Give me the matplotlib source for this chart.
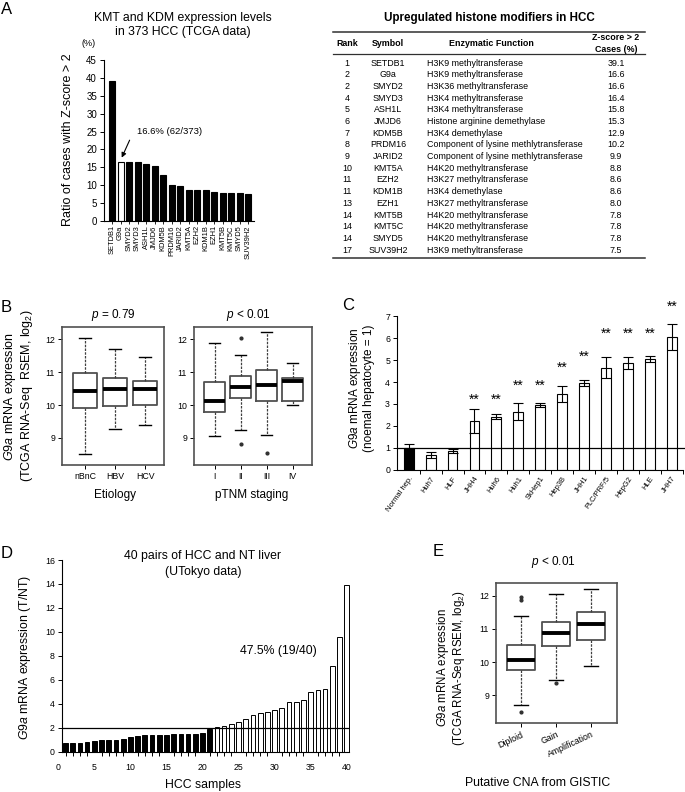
import numpy as np
import matplotlib

matplotlib.use("Agg")
import matplotlib.pyplot as plt

plt.rcParams["font.family"] = ["Liberation Sans", "DejaVu Sans"]
plt.rcParams["mathtext.fontset"] = "custom"
plt.rcParams["mathtext.rm"] = "Liberation Sans"
plt.rcParams["mathtext.it"] = "Liberation Sans:italic"

# ---- A: histone modifiers (TCGA) ----
kmt_ranks = ["1", "2", "2", "4", "5", "6", "7", "8", "9", "10", "11", "11", "13", "14", "14", "14", "17"]
kmt_symbols = ["SETDB1", "G9a", "SMYD2", "SMYD3", "ASH1L", "JMJD6", "KDM5B", "PRDM16", "JARID2",
               "KMT5A", "EZH2", "KDM1B", "EZH1", "KMT5B", "KMT5C", "SMYD5", "SUV39H2"]
kmt_functions = ["H3K9 methyltransferase", "H3K9 methyltransferase", "H3K36 methyltransferase",
                 "H3K4 methyltransferase", "H3K4 methyltransferase", "Histone arginine demethylase",
                 "H3K4 demethylase", "Component of lysine methlytransferase",
                 "Component of lysine methlytransferase", "H4K20 methyltransferase",
                 "H3K27 methyltransferase", "H3K4 demethylase", "H3K27 methyltransferase",
                 "H4K20 methyltransferase", "H4K20 methyltransferase", "H4K20 methyltransferase",
                 "H3K9 methyltransferase"]
kmt_cases = [39.1, 16.6, 16.6, 16.4, 15.8, 15.3, 12.9, 10.2, 9.9, 8.8, 8.6, 8.6, 8.0, 7.8, 7.8, 7.8, 7.5]

# ---- B: boxplots by etiology / stage ----
etiology = ["nBnC", "HBV", "HCV"]
etiology_lo = [8.52, 9.28, 9.38]
etiology_q1 = [9.92, 9.98, 10.0]
etiology_med = [10.43, 10.48, 10.48]
etiology_q3 = [10.98, 10.82, 10.72]
etiology_hi = [12.05, 11.7, 11.45]
etiology_out = [[], [], []]

stages = ["I", "II", "III", "IV"]
stage_lo = [9.04, 9.23, 9.08, 10.0]
stage_q1 = [9.79, 10.2, 10.12, 10.12]
stage_med = [10.13, 10.54, 10.61, 10.72]
stage_q3 = [10.7, 10.9, 11.06, 10.82]
stage_hi = [11.9, 11.54, 12.22, 11.29]
stage_out = [[], [12.05, 8.82], [8.53], []]

# ---- C: cell lines ----
cell_lines = ["Normal hep.", "Huh7", "HLF", "JHH4", "Huh6", "Huh1", "SkHep1", "Hep3B", "JHH1",
              "PLC/PRF/5", "HepG2", "HLE", "JHH7"]
cell_expr = [1.0, 0.67, 0.85, 2.2, 2.42, 2.65, 2.95, 3.45, 3.95, 4.65, 4.85, 5.05, 6.05]
cell_err = [0.15, 0.15, 0.08, 0.55, 0.1, 0.4, 0.1, 0.38, 0.15, 0.47, 0.27, 0.15, 0.6]
cell_star = [None, None, None, 3.2, 3.2, 3.85, 3.85, 4.65, 5.15, 6.2, 6.2, 6.2, 7.45]

# ---- D: 40 paired samples ----
pair_ratio = [0.70, 0.70, 0.70, 0.81, 0.92, 0.95, 0.95, 0.95, 1.06, 1.2,
              1.32, 1.40, 1.43, 1.43, 1.43, 1.48, 1.48, 1.51, 1.51, 1.54,
              1.88, 2.1, 2.18, 2.32, 2.52, 2.72, 3.03, 3.25, 3.28, 3.45,
              3.64, 4.12, 4.17, 4.34, 5.0, 5.13, 5.24, 7.15, 9.6, 13.95]

# ---- E: CNA boxplots ----
cna = ["Diploid", "Gain", "Amplification"]
cna_lo = [8.71, 9.47, 9.89]
cna_q1 = [9.75, 10.5, 10.68]
cna_med = [10.07, 10.88, 11.14]
cna_q3 = [10.52, 11.21, 11.5]
cna_hi = [11.38, 12.05, 12.21]
cna_out = [[11.95, 11.87, 8.5], [9.37], []]

W, H = 685, 792
fig = plt.figure(figsize=(W / 100, H / 100), dpi=100)

# overlay in pixel coordinates for free-standing text, drawn on top
ov = fig.add_axes([0, 0, 1, 1])
ov.set_xlim(0, W)
ov.set_ylim(H, 0)
ov.axis("off")
ov.set_zorder(10)


def ax_px(l, t, r, b):
    return fig.add_axes([l / W, 1 - b / H, (r - l) / W, (b - t) / H])


def txt(x, y, s, size=8.5, **kw):
    kw.setdefault("ha", "center")
    kw.setdefault("va", "center")
    ov.text(x, y, s, fontsize=size, **kw)


def boxes(ax, lo, q1, med, q3, hi, out):
    stats = [dict(whislo=a, q1=b, med=c, q3=d, whishi=e, fliers=f)
             for a, b, c, d, e, f in zip(lo, q1, med, q3, hi, out)]
    ax.bxp(stats, positions=np.arange(1, len(stats) + 1), widths=0.8, capwidths=0.4,
           boxprops=dict(color="#505050", linewidth=1.3),
           medianprops=dict(color="black", linewidth=2.8, solid_capstyle="butt"),
           whiskerprops=dict(color="#404040", linewidth=0.9, linestyle=(0, (2, 1))),
           capprops=dict(color="black", linewidth=1.0),
           flierprops=dict(marker="o", markersize=2, markerfacecolor="#303030",
                           markeredgecolor="#303030"))
    ax.set_ylim(8.17, 12.38)
    ax.set_yticks([9, 10, 11, 12])
    for s in ax.spines.values():
        s.set_color("#505050")
        s.set_linewidth(1.2)
    ax.tick_params(labelsize=6.3, length=3, width=0.7, pad=2)


# ---------------- A bar ----------------
axa = ax_px(104, 60, 254, 221)
xa = np.arange(len(kmt_cases))
axa.bar(xa, kmt_cases, width=0.7, color=["black"] + ["white"] + ["black"] * (len(kmt_cases) - 2),
        edgecolor="black", linewidth=0.8)
axa.set_xlim(-0.95, 16.7)
axa.set_ylim(0, 45)
axa.set_yticks(range(0, 46, 5))
axa.set_xticks(xa)
axa.set_xticklabels(kmt_symbols, rotation=90, fontsize=5.4)
axa.tick_params(axis="y", labelsize=7, length=3, width=0.7, pad=2)
axa.tick_params(axis="x", length=2, width=0.6, pad=1)
axa.spines[["top", "right"]].set_visible(False)
axa.annotate("", xy=(1, 17.0), xytext=(2.2, 23.3),
             arrowprops=dict(arrowstyle="-|>", lw=0.8, color="black", mutation_scale=7))
axa.text(2.9, 24.9, "16.6% (62/373)", fontsize=6.8, va="center")

txt(7, 9, "A", size=12)
txt(183, 18, "KMT and KDM expression levels", size=8.8)
txt(183, 32, "in 373 HCC (TCGA data)", size=8.8)
txt(89, 44, "(%)", size=6.5)
txt(68, 140, "Ratio of cases with Z-score > 2", size=9, rotation=90)

# ---------------- A table ----------------
txt(489, 18, "Upregulated histone modifiers in HCC", size=8.4, fontweight="bold")
for yy, lw in [(32, 1.1), (54, 0.9), (258, 1.1)]:
    ov.plot([333, 645], [yy, yy], color="#303030", lw=lw)
hdr = dict(size=6.4, fontweight="bold")
txt(347, 43, "Rank", **hdr)
txt(388, 43, "Symbol", **hdr)
txt(491, 43, "Enzymatic Function", **hdr)
txt(616, 38, "Z-score > 2", **hdr)
txt(616, 49, "Cases (%)", **hdr)
for i, (rk, sym, fn, cs) in enumerate(zip(kmt_ranks, kmt_symbols, kmt_functions, kmt_cases)):
    yy = 63.3 + 11.67 * i
    txt(347, yy, rk, size=6.4)
    txt(388, yy, sym, size=6.4)
    txt(427, yy, fn, size=6.4, ha="left")
    txt(616, yy, f"{cs:.1f}", size=6.4)

# ---------------- B ----------------
axb1 = ax_px(62, 327, 164, 465)
boxes(axb1, etiology_lo, etiology_q1, etiology_med, etiology_q3, etiology_hi, etiology_out)
axb1.set_xlim(0.23, 3.63)
axb1.set_xticks([1, 2, 3])
axb1.set_xticklabels(etiology)

axb2 = ax_px(194, 327, 312, 465)
boxes(axb2, stage_lo, stage_q1, stage_med, stage_q3, stage_hi, stage_out)
axb2.set_xlim(0.21, 4.75)
axb2.set_xticks([1, 2, 3, 4])
axb2.set_xticklabels(stages)

txt(6, 307, "B", size=12)
txt(113, 315, "$\\it{p}$ = 0.79", size=8.5)
txt(248, 315, "$\\it{p}$ < 0.01", size=8.5)
txt(10, 396, "$\\it{G9a}$ mRNA expression", size=9, rotation=90)
txt(27, 396, "(TCGA RNA-Seq  RSEM, log$_2$)", size=9, rotation=90)
txt(115, 495, "Etiology", size=8.5)
txt(252, 495, "pTNM staging", size=8.5)

# ---------------- C ----------------
axc = ax_px(397, 316.3, 683, 469.6)
xc = np.arange(len(cell_expr))
axc.bar(xc, cell_expr, width=0.45, color=["black"] + ["white"] * (len(cell_expr) - 1),
        edgecolor="black", linewidth=0.8, zorder=2)
axc.errorbar(xc, cell_expr, yerr=cell_err, fmt="none", ecolor="black", elinewidth=0.8,
             capsize=3.6, capthick=0.8, zorder=3)
axc.axhline(1, xmax=1.01, color="black", lw=0.9, zorder=4, clip_on=False)
for i, sy in enumerate(cell_star):
    if sy is not None:
        axc.text(i, sy, "**", ha="center", va="center", fontsize=10, clip_on=False)
axc.set_xlim(-0.53, 12.45)
axc.set_ylim(0, 7)
axc.set_yticks(range(8))
axc.set_xticks(xc)
axc.set_xticklabels(cell_lines, rotation=55, ha="right", rotation_mode="anchor", fontsize=5.4)
axc.set_xticks(xc + 0.5, minor=True)
axc.tick_params(axis="x", which="major", length=0, pad=4)
axc.tick_params(axis="x", which="minor", length=3, width=0.7)
axc.tick_params(axis="y", labelsize=6.3, length=3, width=0.7, pad=2)
axc.spines[["top", "right"]].set_visible(False)

txt(348, 305, "C", size=12)
txt(355, 388, "$\\it{G9a}$ mRNA expression", size=8.5, rotation=90)
txt(369, 388, "(noemal hepatocyte = 1)", size=8.5, rotation=90)

# ---------------- D ----------------
axd = ax_px(58.3, 560, 350.3, 751.7)
xd = np.arange(1, len(pair_ratio) + 1)
axd.bar(xd, pair_ratio, width=0.65,
        color=["white" if v > 2 else "black" for v in pair_ratio],
        edgecolor="black", linewidth=0.7)
axd.hlines(2, 0.5, 40.3, color="black", lw=0.9)
axd.set_xlim(0, 40.5)
axd.set_ylim(0, 16)
axd.set_yticks(range(0, 17, 2))
axd.set_xticks(range(0, 41, 5))
axd.set_xticks(xd, minor=True)
axd.spines[["top", "right"]].set_visible(False)
axd.spines["left"].set_position(("data", 0.5))
axd.spines["bottom"].set_bounds(0.5, 40.3)
axd.tick_params(axis="x", which="major", length=0, pad=8, labelsize=6.3)
axd.tick_params(axis="x", which="minor", length=3, width=0.7)
axd.tick_params(axis="y", labelsize=6.3, length=3, width=0.7, pad=2)

txt(7, 553, "D", size=12)
txt(203, 556, "40 pairs of HCC and NT liver", size=8.8)
txt(203, 572, "(UTokyo data)", size=8.8)
txt(278, 651, "47.5% (19/40)", size=8.8)
txt(25, 657, "$\\it{G9a}$ mRNA expression (T/NT)", size=8.8, rotation=90)
txt(203, 785, "HCC samples", size=8.8)

# ---------------- E ----------------
axe = ax_px(496, 583, 617, 723)
boxes(axe, cna_lo, cna_q1, cna_med, cna_q3, cna_hi, cna_out)
axe.set_xlim(0.29, 3.74)
axe.set_xticks([1, 2, 3])
axe.set_xticklabels(cna, rotation=25, ha="right", rotation_mode="anchor", fontsize=6.3)

txt(438, 552, "E", size=12)
txt(553, 562, "$\\it{p}$ < 0.01", size=8.5)
txt(443, 668, "$\\it{G9a}$ mRNA expression", size=8.3, rotation=90)
txt(459, 668, "(TCGA RNA-Seq RSEM, log$_2$)", size=8.3, rotation=90)
txt(538, 783, "Putative CNA from GISTIC", size=8.8)

fig.savefig("out.png", dpi=100)
plt.close(fig)
